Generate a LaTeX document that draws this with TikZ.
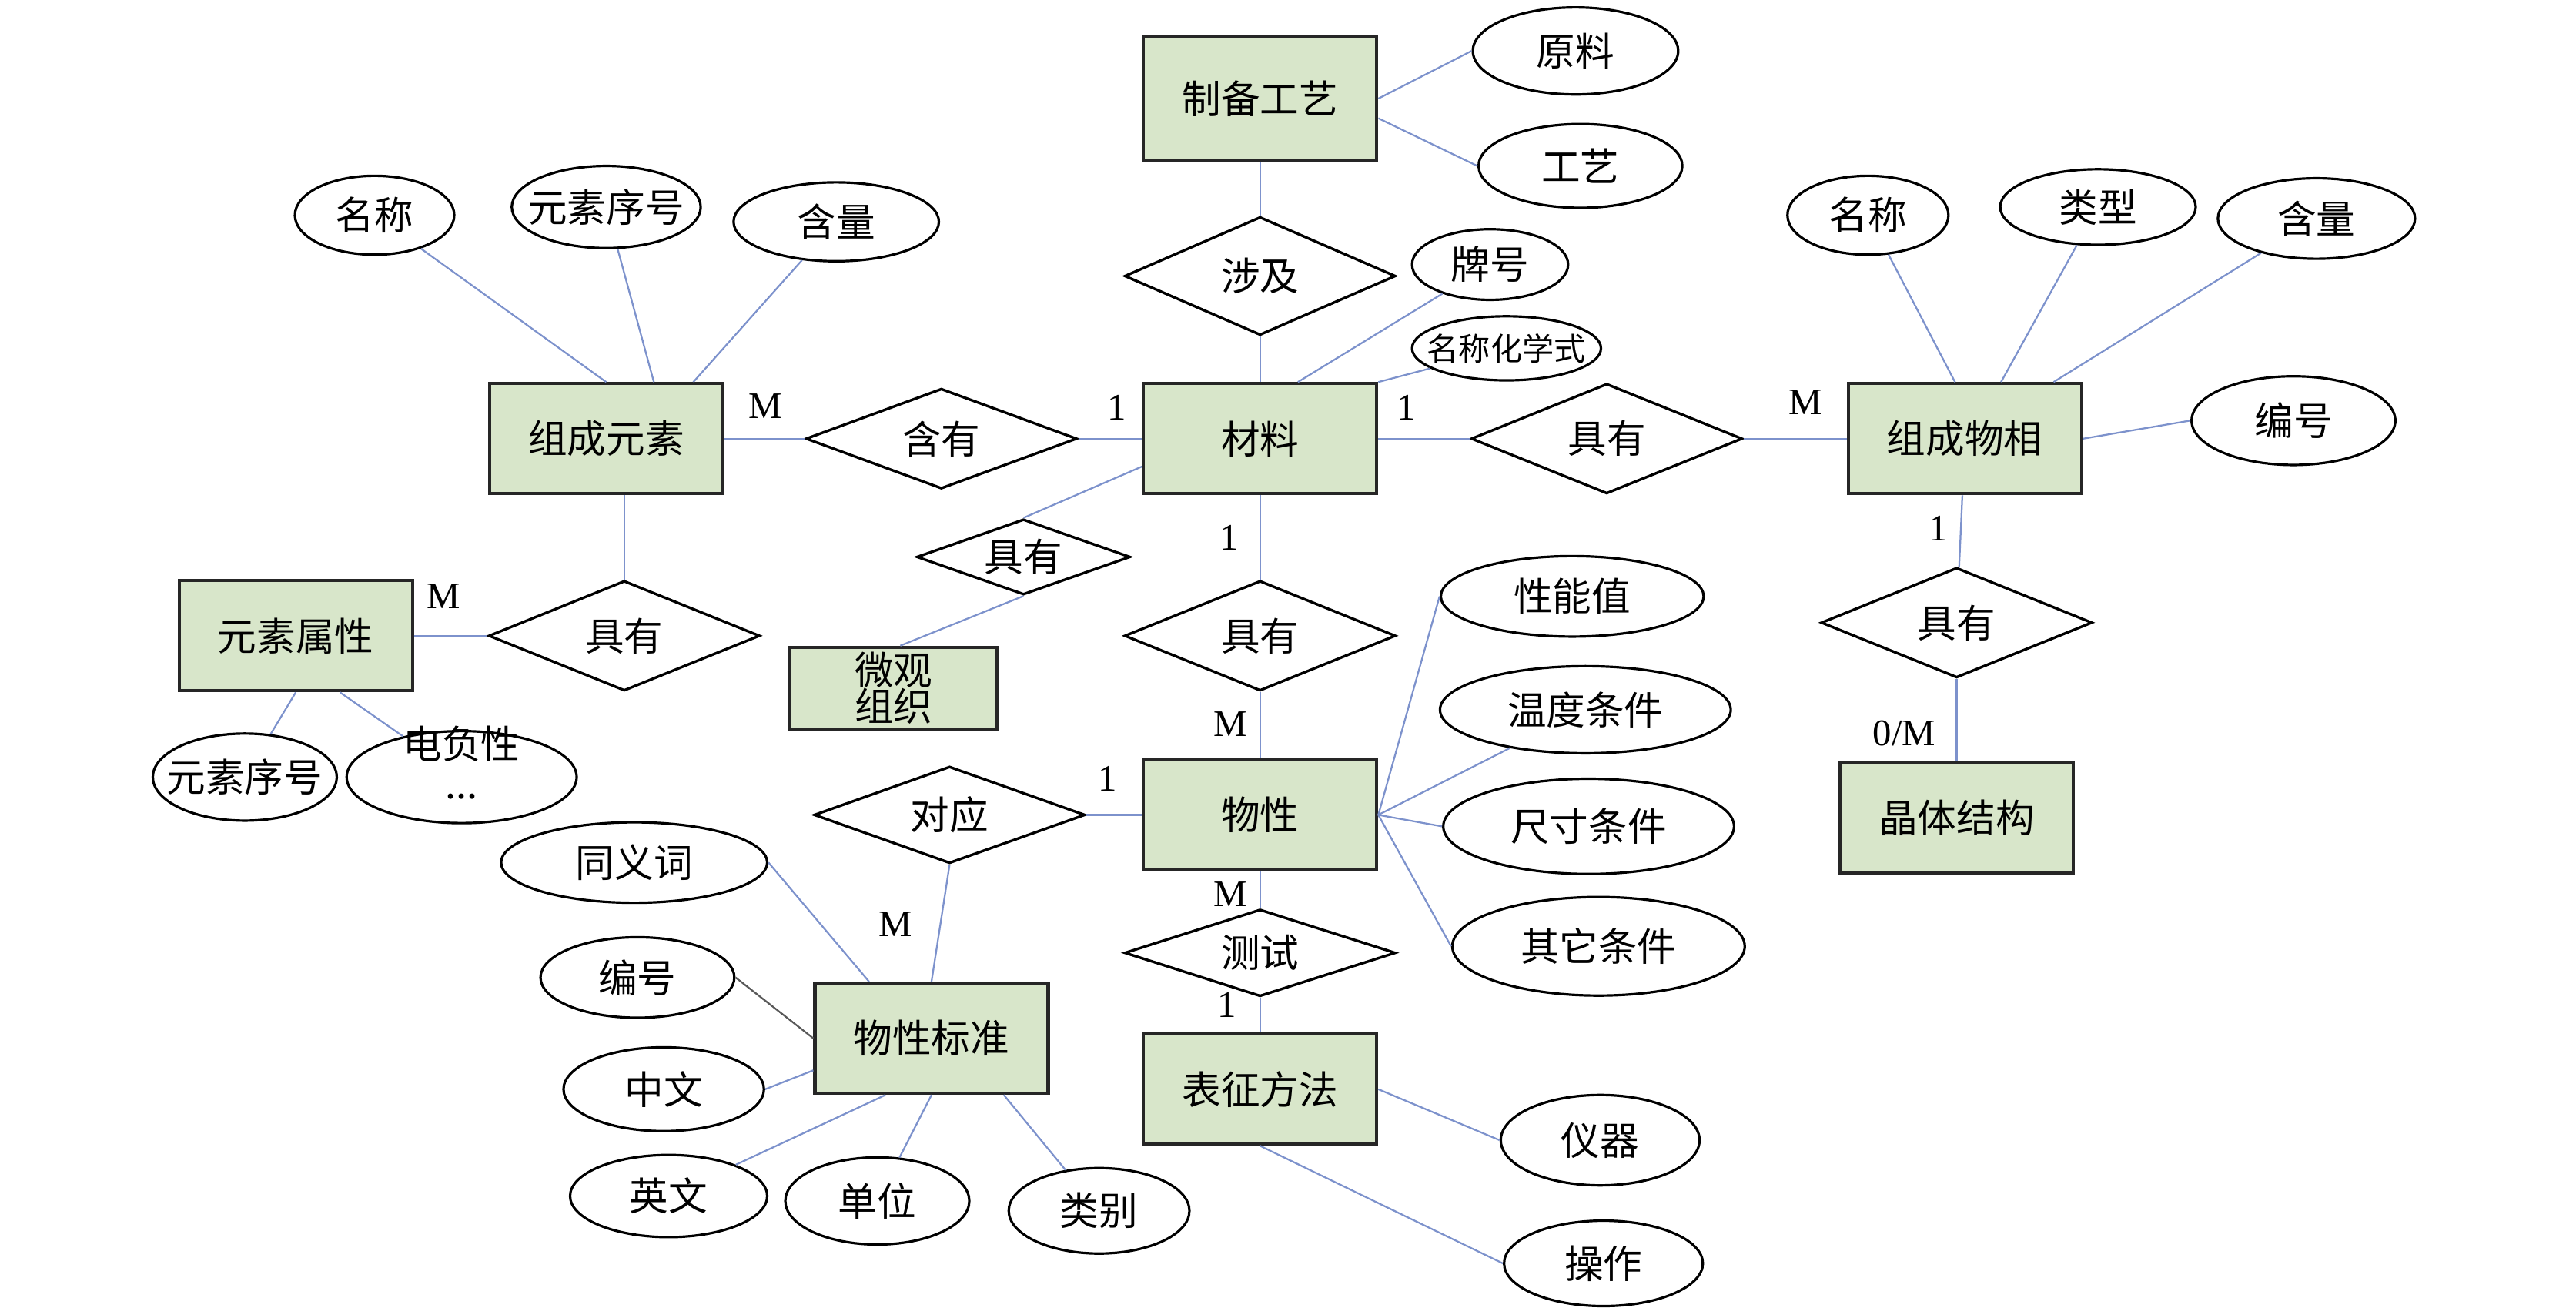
\documentclass[tikz,border=0pt]{standalone}
\usepackage{fontspec}
\setmainfont{Liberation Serif}
\newfontfamily\cjk{Noto Sans CJK SC}
\usetikzlibrary{shapes.geometric, positioning}
\definecolor{entgreen}{RGB}{216,230,202}
\definecolor{linkblue}{RGB}{125,146,204}
\newcommand{\erfont}{\cjk\fontsize{13.5}{15}\selectfont}
\newcommand{\ertext}[1]{\makebox[0pt]{#1}} % keeps the ellipse size fixed
\tikzset{
on grid, % distances are centre to centre
node distance=2cm,
}
\tikzstyle{entity} = [rectangle, draw=black!85, line width=1.1pt, fill=entgreen,
    minimum width=2.84cm, minimum height=1.34cm, font=\erfont]
\tikzstyle{relation} = [diamond, draw, line width=0.9pt, aspect=2.5, inner sep=0pt,
    minimum width=3.3cm, minimum height=1.34cm, font=\erfont]
\tikzstyle{attrib} = [ellipse, draw, line width=0.85pt, inner sep=0pt,
    minimum height=1cm, font=\erfont]
\tikzstyle{line} = [draw=linkblue, line width=0.6pt]
\tikzstyle{card} = [inner sep=0pt, font=\fontsize{13}{15}\selectfont]

\begin{document}
\begin{tikzpicture}
\useasboundingbox (0,0) rectangle (31.36,-15.92);
% material and the top branch
\node [entity] (mat) at (15.34,-5.34) {材料};
\node [relation, above=1.98cm of mat, minimum height=1.44cm] (inv) {涉及};
\node [entity, above=2.16cm of inv, minimum height=1.5cm] (prep) {制备工艺};
\node [attrib, above right=0.58cm and 3.84cm of prep, minimum width=2.5cm, minimum height=1.06cm] (raw) {\ertext{原料}};
\node [attrib, below right=0.82cm and 3.9cm of prep, minimum width=2.48cm, minimum height=1.02cm] (craft) {\ertext{工艺}};
\node [attrib, above right=2.12cm and 2.8cm of mat, minimum width=1.9cm, minimum height=0.86cm] (brand) {\ertext{牌号}};
\node [attrib, above right=1.1cm and 3.0cm of mat, minimum width=2.3cm, minimum height=0.78cm,
    font=\cjk\fontsize{11}{13}\selectfont] (chem) {\ertext{名称化学式}};
% elements
\node [relation, left=3.88cm of mat, minimum height=1.22cm] (contain) {含有};
\node [entity, left=4.08cm of contain] (elem) {组成元素};
\node [attrib, above left=2.72cm and 2.82cm of elem, minimum width=1.94cm, minimum height=0.96cm] (nameL) {\ertext{名称}};
\node [attrib, above=2.82cm of elem, minimum width=2.3cm] (seqT) {\ertext{元素序号}};
\node [attrib, above right=2.64cm and 2.8cm of elem, minimum width=2.5cm, minimum height=0.96cm] (qtyL) {\ertext{含量}};
\node [relation, below right=2.4cm and 0.22cm of elem] (hasE) {具有};
\node [entity, left=4.0cm of hasE] (eprop) {元素属性};
\node [attrib, below left=1.72cm and 0.62cm of eprop, minimum width=2.24cm, minimum height=1.06cm] (seqB) {\ertext{元素序号}};
\node [attrib, below right=1.72cm and 2.02cm of eprop, minimum width=2.8cm, minimum height=1.12cm] (eneg)
    {\ertext{\raisebox{-1.5pt}{\smash{\begin{tabular}{@{}c@{}}电负性\\[-1pt]...\end{tabular}}}}};
% phases
\node [relation, right=4.22cm of mat] (hasP) {具有};
\node [entity, right=4.36cm of hasP] (phase) {组成物相};
\node [attrib, above left=2.72cm and 1.18cm of phase, minimum width=1.96cm, minimum height=0.96cm] (nameR) {\ertext{名称}};
\node [attrib, above right=2.82cm and 1.62cm of phase, minimum width=2.38cm, minimum height=0.92cm] (type) {\ertext{类型}};
\node [attrib, above right=2.68cm and 4.28cm of phase, minimum width=2.4cm, minimum height=0.98cm] (qtyR) {\ertext{含量}};
\node [attrib, above right=0.22cm and 4.0cm of phase, minimum width=2.48cm, minimum height=1.08cm] (codeR) {\ertext{编号}};
\node [relation, below left=2.24cm and 0.1cm of phase] (hasC) {具有};
\node [entity, below=2.38cm of hasC] (crystal) {晶体结构};
% microstructure
\node [relation, below left=1.44cm and 2.88cm of mat, minimum width=2.6cm, minimum height=0.92cm] (hasM) {具有};
\node [entity, below left=1.6cm and 1.58cm of hasM, minimum width=2.52cm, minimum height=1cm,
    align=center, inner sep=1pt, font=\cjk\fontsize{13.5}{12.5}\selectfont] (micro) {微观\\组织};
% properties
\node [relation, below=2.4cm of mat] (hasX) {具有};
\node [entity, below=2.18cm of hasX] (phys) {物性};
\node [relation, left=3.78cm of phys, minimum height=1.18cm] (corr) {对应};
\node [entity, below left=2.72cm and 0.22cm of corr] (std) {物性标准};
\node [relation, below=1.68cm of phys, minimum height=1.06cm] (test) {测试};
\node [entity, below=1.66cm of test] (method) {表征方法};
\node [attrib, above right=2.66cm and 3.8cm of phys, minimum width=3.2cm, minimum height=0.98cm] (perf) {\ertext{性能值}};
\node [attrib, above right=1.28cm and 3.96cm of phys, minimum width=3.54cm, minimum height=1.06cm] (temp) {\ertext{温度条件}};
\node [attrib, below right=0.14cm and 4.0cm of phys, minimum width=3.54cm, minimum height=1.16cm] (size) {\ertext{尺寸条件}};
\node [attrib, below right=1.6cm and 4.12cm of phys, minimum width=3.56cm, minimum height=1.2cm] (other) {\ertext{其它条件}};
\node [attrib, below right=0.62cm and 4.14cm of method, minimum width=2.42cm, minimum height=1.1cm] (instr) {\ertext{仪器}};
\node [attrib, below right=2.12cm and 4.18cm of method, minimum width=2.42cm, minimum height=1.04cm] (oper) {\ertext{操作}};
\node [attrib, above left=2.14cm and 3.62cm of std, minimum width=3.24cm, minimum height=0.98cm] (syn) {\ertext{同义词}};
\node [attrib, above left=0.74cm and 3.58cm of std, minimum width=2.36cm, minimum height=0.98cm] (codeL) {\ertext{编号}};
\node [attrib, below left=0.62cm and 3.26cm of std, minimum width=2.44cm, minimum height=1.02cm] (cn) {\ertext{中文}};
\node [attrib, below left=1.92cm and 3.2cm of std, minimum width=2.4cm, minimum height=1.0cm] (en) {\ertext{英文}};
\node [attrib, below left=1.98cm and 0.66cm of std, minimum width=2.24cm, minimum height=1.06cm] (unit) {\ertext{单位}};
\node [attrib, below right=2.1cm and 2.04cm of std, minimum width=2.2cm, minimum height=1.04cm] (cat) {\ertext{类别}};

% cardinalities
\node [card] (cElem) at ([xshift=0.5cm, yshift=0.4cm]elem.east) {M};
\node [card] (cMatL) at ([xshift=-0.3cm, yshift=0.38cm]mat.west) {1};
\node [card] (cMatR) at ([xshift=0.34cm, yshift=0.38cm]mat.east) {1};
\node [card] (cPhase) at ([xshift=-0.5cm, yshift=0.44cm]phase.west) {M};
\node [card] (cEprop) at ([xshift=0.36cm, yshift=0.48cm]eprop.east) {M};
\node [card] (cMatB) at ([xshift=-0.38cm, yshift=-0.52cm]mat.south) {1};
\node [card] (cPhysT) at ([xshift=-0.36cm, yshift=0.42cm]phys.north) {M};
\node [card] (cPhysL) at ([xshift=-0.42cm, yshift=0.44cm]phys.west) {1};
\node [card] (cStd) at ([xshift=-0.44cm, yshift=0.7cm]std.north) {M};
\node [card] (cPhysB) at ([xshift=-0.36cm, yshift=-0.28cm]phys.south) {M};
\node [card] (cMethod) at ([xshift=-0.4cm, yshift=0.34cm]method.north) {1};
\node [card] (cPhaseB) at ([xshift=-0.32cm, yshift=-0.4cm]phase.south) {1};
\node [card] (cCrystal) at ([xshift=-0.64cm, yshift=0.34cm]crystal.north) {0/M};

  \path [line] (nameL) -- (elem.north);
  \path [line] (seqT) -- ([xshift=0.58cm]elem.north);
  \path [line] (qtyL) -- ([xshift=1.06cm]elem.north);
  \path [line] (elem) -- (contain);
  \path [line] (contain) -- (mat);
  \path [line] ([xshift=0.22cm]elem.south) -- (hasE.north);
  \path [line] (eprop) -- (hasE);
  \path [line] (eprop.south) -- (seqB);
  \path [line] ([xshift=0.54cm]eprop.south) -- (eneg);

  \path [line] (prep) -- (inv);
  \path [line] (prep.east) -- (raw.west);
  \path [line] ([yshift=-0.24cm]prep.east) -- (craft.west);
  \path [line] (inv) -- (mat);
  \path [line] (brand) -- ([xshift=0.46cm]mat.north);
  \path [line] (chem) -- (mat.north east);

  \path [line] (mat) -- (hasP);
  \path [line] (hasP) -- (phase);
  \path [line] (nameR) -- ([xshift=-0.12cm]phase.north);
  \path [line] (type) -- ([xshift=0.44cm]phase.north);
  \path [line] (qtyR) -- ([xshift=1.08cm]phase.north);
  \path [line] (phase.east) -- (codeR.west);
  \path [line] (phase) -- (hasC);
  \path [line] (hasC) -- (crystal);

  \path [line] ([yshift=-0.34cm]mat.west) -- (hasM.north);
  \path [line] (hasM.south) -- ([xshift=0.08cm]micro.north);

  \path [line] (mat) -- (hasX);
  \path [line] (hasX) -- (phys);
  \path [line] (phys) -- (corr);
  \path [line] (corr.south) -- (std.north);
  \path [line] (phys) -- (test);
  \path [line] (test) -- (method);
  \path [line] (phys.east) -- (perf.west);
  \path [line] (phys.east) -- (temp);
  \path [line] (phys.east) -- (size.west);
  \path [line] (phys.east) -- (other.west);
  \path [line] (method.east) -- (instr.west);
  \path [line] (method.south) -- (oper.west);

  \path [line] (syn.east) -- ([xshift=-0.76cm]std.north);
  \path [line, draw=black!65] (codeL.east) -- (std.west);
  \path [line] (cn.east) -- ([yshift=-0.39cm]std.west);
  \path [line] (en) -- ([xshift=-0.56cm]std.south);
  \path [line] (unit) -- (std.south);
  \path [line] (cat) -- ([xshift=0.88cm]std.south);
\end{tikzpicture}
\end{document}
